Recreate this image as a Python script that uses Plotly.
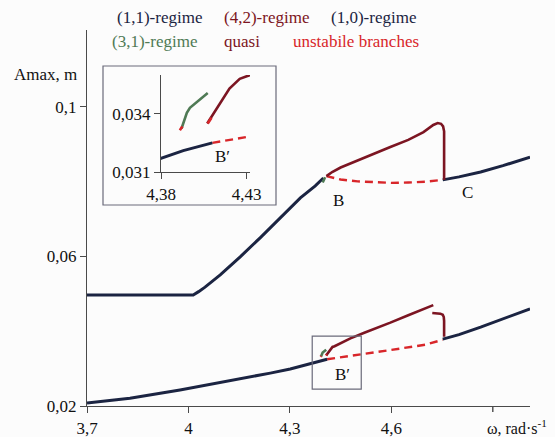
import plotly.graph_objects as go

# ---------------- data ----------------
# upper family
u11_x = [3.70, 4.014, 4.030, 4.049, 4.094, 4.153, 4.212, 4.271, 4.331, 4.375, 4.399]
u11_y = [0.0497, 0.0497, 0.0506, 0.0518, 0.0551, 0.0599, 0.0650, 0.0703, 0.0757, 0.0789, 0.0810]
u31_x = [4.397, 4.400, 4.404]
u31_y = [0.0798, 0.0806, 0.0812]
uq_x = [4.408, 4.425, 4.45, 4.499, 4.55, 4.597, 4.65, 4.695, 4.724, 4.737, 4.747, 4.753, 4.756, 4.756]
uq_y = [0.0815, 0.0826, 0.0838, 0.0857, 0.0875, 0.0893, 0.0912, 0.0933, 0.0952, 0.0957, 0.0955, 0.0948, 0.0935, 0.0805]
uu_x = [4.408, 4.45, 4.50, 4.55, 4.60, 4.65, 4.70, 4.752]
uu_y = [0.0815, 0.0806, 0.0801, 0.0798, 0.0797, 0.0798, 0.0800, 0.0805]
u10_x = [4.752, 4.80, 4.864, 4.93, 5.01]
u10_y = [0.0805, 0.0813, 0.0826, 0.0843, 0.0866]

# lower family
l11_x = [3.70, 3.827, 3.975, 4.123, 4.242, 4.301, 4.35, 4.38, 4.393, 4.41]
l11_y = [0.0208, 0.0221, 0.0243, 0.0267, 0.0288, 0.0299, 0.0310, 0.0317, 0.0321, 0.0325]
l31_x = [4.392, 4.3951, 4.3969, 4.4073]
l31_y = [0.03324, 0.03405, 0.03431, 0.03507]
l31u_x = [4.391, 4.3925]
l31u_y = [0.03315, 0.03335]
lq_x = [4.407, 4.413, 4.42, 4.426, 4.432, 4.45, 4.479, 4.52, 4.55, 4.597, 4.65, 4.724]
lq_y = [0.0335, 0.0343, 0.0353, 0.0358, 0.0360, 0.0368, 0.0381, 0.0396, 0.0406, 0.0423, 0.0443, 0.0470]
lqu_x = [4.4073, 4.4095]
lqu_y = [0.0335, 0.0338]
lq2_x = [4.721, 4.745, 4.752, 4.755, 4.756, 4.756]
lq2_y = [0.0449, 0.0447, 0.0444, 0.0438, 0.0428, 0.0385]
lu_x = [4.41, 4.50, 4.60, 4.70, 4.752]
lu_y = [0.0325, 0.0336, 0.0350, 0.0364, 0.0377]
l10_x = [4.752, 4.80, 4.864, 4.93, 5.01]
l10_y = [0.0379, 0.0391, 0.0411, 0.0433, 0.0460]

x_ticks = [3.7, 4.0, 4.3, 4.6]
x_ticktext = ["3,7", "4", "4,3", "4,6"]
x_extra_tick = 4.9
y_ticks = [0.02, 0.06, 0.10]
y_ticktext = ["0,02", "0,06", "0,1"]
in_x_ticks = [4.38, 4.43]
in_x_text = ["4,38", "4,43"]
in_y_ticks = [0.031, 0.034]
in_y_text = ["0,031", "0,034"]

NAVY = "#1b2442"
DRED = "#7c1522"
GREEN = "#4f7a55"
RED = "#d8262a"
FONT = "Liberation Serif, Times New Roman, Tinos, DejaVu Serif, serif"

W, H = 555, 437
L, R, T, B = 87, 25, 30, 31

def px(x):
    return (x - L) / (W - L - R)

def py(y):
    return (H - B - y) / (H - T - B)

fig = go.Figure()

def line(x, y, color, width=2.6, dash=None, ax="x", ay="y"):
    fig.add_trace(go.Scatter(x=x, y=y, mode="lines", xaxis=ax, yaxis=ay,
                             line=dict(color=color, width=width, dash=dash),
                             showlegend=False, hoverinfo="skip"))

for ax, ay in [("x", "y"), ("x2", "y2")]:
    line(uu_x, uu_y, RED, 2.4, "8px,5px", ax, ay)
    line(lu_x, lu_y, RED, 2.4, "8px,5px", ax, ay)
    line(u11_x, u11_y, NAVY, 3.0, None, ax, ay)
    line(u10_x, u10_y, NAVY, 3.0, None, ax, ay)
    line(uq_x, uq_y, DRED, 2.6, None, ax, ay)
    line(u31_x, u31_y, GREEN, 2.6, None, ax, ay)
    line(l11_x, l11_y, NAVY, 3.0, None, ax, ay)
    line(l10_x, l10_y, NAVY, 3.0, None, ax, ay)
    line(lq_x, lq_y, DRED, 2.6, None, ax, ay)
    line(lq2_x, lq2_y, DRED, 2.6, None, ax, ay)
    line(l31_x, l31_y, GREEN, 2.6, None, ax, ay)
    line(l31u_x, l31u_y, RED, 2.6, None, ax, ay)
    line(lqu_x, lqu_y, RED, 2.6, None, ax, ay)

axis_common = dict(showgrid=False, zeroline=False, showline=True, linecolor="#4a4a4a",
                   linewidth=1.4, ticks="outside", ticklen=6, tickcolor="#4a4a4a", automargin=False,
                   tickfont=dict(family=FONT, size=17, color="#111"))

fig.update_layout(
    width=W, height=H, margin=dict(l=L, r=R, t=T, b=B, autoexpand=False), autosize=False,
    paper_bgcolor="#fcfcfc", plot_bgcolor="rgba(0,0,0,0)",
    xaxis=dict(range=[3.7, 5.01], tickvals=x_ticks, ticktext=x_ticktext, **axis_common),
    yaxis=dict(range=[0.02, 0.1206], tickvals=y_ticks, ticktext=y_ticktext, **axis_common),
    xaxis2=dict(domain=[px(161), px(250)], anchor="y2", range=[4.38, 4.432],
                tickvals=in_x_ticks, ticktext=in_x_text, **axis_common),
    yaxis2=dict(domain=[py(172), py(75)], anchor="x2", range=[0.031, 0.036],
                tickvals=in_y_ticks, ticktext=in_y_text, **axis_common),
    showlegend=False,
)

# unlabeled tick at 4.9
fig.add_shape(type="line", xref="x", yref="paper", x0=x_extra_tick, x1=x_extra_tick, y0=0, y1=-6 / (H - T - B),
              line=dict(color="#4a4a4a", width=1.4))

# inset frame and small box
fig.add_shape(type="rect", xref="paper", yref="paper", x0=px(103), x1=px(276), y0=py(205), y1=py(66),
              line=dict(color="#6a6a7a", width=1.2), layer="below")
fig.add_shape(type="rect", xref="x", yref="y", x0=4.366, x1=4.511, y0=0.0245, y1=0.0387,
              line=dict(color="#6a6a7a", width=1.2))

def text(s, x, y, color="#111", size=17, xanchor="left", xref="paper", yref="paper"):
    fig.add_annotation(text=s, x=x, y=y, xref=xref, yref=yref, xanchor=xanchor, yanchor="middle",
                       showarrow=False, font=dict(family=FONT, size=size, color=color))

# legend-like texts
text("(1,1)-regime", px(115), py(17), NAVY)
text("(4,2)-regime", px(222), py(17), DRED)
text("(1,0)-regime", px(329), py(17), NAVY)
text("(3,1)-regime", px(110), py(41), GREEN)
text("quasi", px(222), py(41), DRED)
text("unstabile branches", px(291), py(41), RED)

text("Amax, m", px(12), py(75))
text("ω, rad·s<sup>-1</sup>", px(549), py(427), size=16, xanchor="right")

text("B", 4.443, 0.0751, xref="x", yref="y", xanchor="center")
text("C", 4.825, 0.0770, xref="x", yref="y", xanchor="center")
text("B′", 4.455, 0.0283, xref="x", yref="y", xanchor="center")
text("B′", px(222), py(156), xanchor="center")

post = ("document.body.style.margin='0';document.body.style.padding='0';"
        "document.body.style.overflow='hidden';document.documentElement.style.overflow='hidden';"
        "Plotly.relayout('{plot_id}', {width: 555, height: 437});")

fig.write_html("out.html", config={"responsive": False, "displayModeBar": False}, post_script=post)
